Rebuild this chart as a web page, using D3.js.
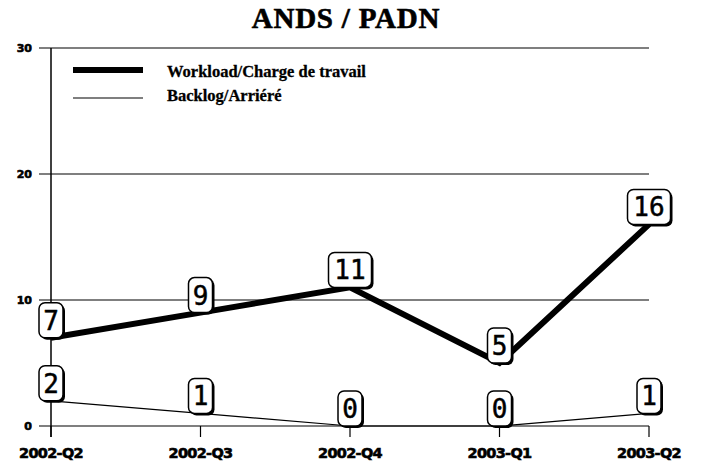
<!DOCTYPE html>
<html><head><meta charset="utf-8">
<script src="https://cdn.jsdelivr.net/npm/d3@7"></script>
<style>body{margin:0;background:#fff}</style>
</head><body>
<svg id="c" width="701" height="465"></svg>
<script>
const categories = ["2002-Q2","2002-Q3","2002-Q4","2003-Q1","2003-Q2"];
const workload = [7, 9, 11, 5, 16];
const backlog = [2, 1, 0, 0, 1];
const yTicks = [0, 10, 20, 30];
const title = "ANDS / PADN";
const seriesNames = ["Workload/Charge de travail", "Backlog/Arriéré"];

const svg = d3.select("#c");
const x = d3.scalePoint().domain(categories).range([51, 649]);
const y = d3.scaleLinear().domain([0, 30]).range([426, 48]);

svg.append("text").attr("x", 346).attr("y", 28).attr("text-anchor", "middle")
  .attr("font-family", "Liberation Serif").attr("font-weight", "bold").attr("font-size", 29)
  .attr("stroke", "#000").attr("stroke-width", 0.6).attr("letter-spacing", 0.8)
  .text(title);

// gridlines
svg.append("g").selectAll("line").data(yTicks).join("line")
  .attr("x1", 39).attr("x2", 649).attr("y1", d => y(d)).attr("y2", d => y(d))
  .attr("stroke", "#000").attr("stroke-width", 1.2);

// y axis line
svg.append("line").attr("x1", x(categories[0])).attr("x2", x(categories[0]))
  .attr("y1", y(30)).attr("y2", 437).attr("stroke", "#000").attr("stroke-width", 1.5);

// x ticks
svg.append("g").selectAll("line").data(categories).join("line")
  .attr("x1", d => x(d)).attr("x2", d => x(d)).attr("y1", y(0)).attr("y2", 437)
  .attr("stroke", "#000").attr("stroke-width", 1.2);

// y labels
svg.append("g").selectAll("text").data(yTicks).join("text")
  .attr("x", 32).attr("y", d => y(d) + 4).attr("text-anchor", "end")
  .attr("font-family", "DejaVu Sans").attr("font-weight", "bold").attr("font-size", 11)
  .attr("stroke", "#000").attr("stroke-width", 0.6)
  .text(d => d);

// x labels
svg.append("g").selectAll("text").data(categories).join("text")
  .attr("x", d => x(d)).attr("y", 457.5).attr("text-anchor", "middle")
  .attr("font-family", "DejaVu Sans").attr("font-weight", "bold").attr("font-size", 14.5)
  .attr("letter-spacing", -0.7).attr("stroke", "#000").attr("stroke-width", 0.6)
  .text(d => d);

const line = d3.line().x((d, i) => x(categories[i])).y(d => y(d));
svg.append("path").attr("d", line(backlog)).attr("fill", "none").attr("stroke", "#000").attr("stroke-width", 1.2);
svg.append("path").attr("d", line(workload)).attr("fill", "none").attr("stroke", "#000").attr("stroke-width", 6);

// legend
svg.append("line").attr("x1", 73).attr("x2", 143).attr("y1", 70).attr("y2", 70).attr("stroke", "#000").attr("stroke-width", 6);
svg.append("line").attr("x1", 73).attr("x2", 143).attr("y1", 98).attr("y2", 98).attr("stroke", "#000").attr("stroke-width", 1.2);
svg.append("text").attr("x", 167).attr("y", 77).attr("font-family", "Liberation Serif").attr("font-weight", "bold").attr("font-size", 16.5)
  .attr("stroke", "#000").attr("stroke-width", 0.3).text(seriesNames[0]);
svg.append("text").attr("x", 167).attr("y", 101).attr("font-family", "Liberation Serif").attr("font-weight", "bold").attr("font-size", 16.5)
  .attr("stroke", "#000").attr("stroke-width", 0.3).text(seriesNames[1]);

// value labels
function labels(data) {
  const g = svg.append("g");
  data.forEach((v, i) => {
    const s = String(v);
    const w = s.length === 1 ? 24 : 43;
    const h = 35;
    const cx = x(categories[i]);
    const bottom = y(v);
    const lg = g.append("g");
    lg.append("rect").attr("x", cx - w/2 + 2).attr("y", bottom - h + 2).attr("width", w).attr("height", h)
      .attr("rx", 6).attr("fill", "#000");
    lg.append("rect").attr("x", cx - w/2).attr("y", bottom - h).attr("width", w).attr("height", h)
      .attr("rx", 6).attr("fill", "#fff").attr("stroke", "#000").attr("stroke-width", 1.5);
    lg.append("text").attr("x", cx).attr("y", bottom - 8).attr("text-anchor", "middle")
      .attr("font-family", "DejaVu Sans Mono").attr("font-size", 26)
      .attr("stroke", "#000").attr("stroke-width", 0.5).text(s);
  });
}
labels(backlog);
labels(workload);
</script>
</body></html>
